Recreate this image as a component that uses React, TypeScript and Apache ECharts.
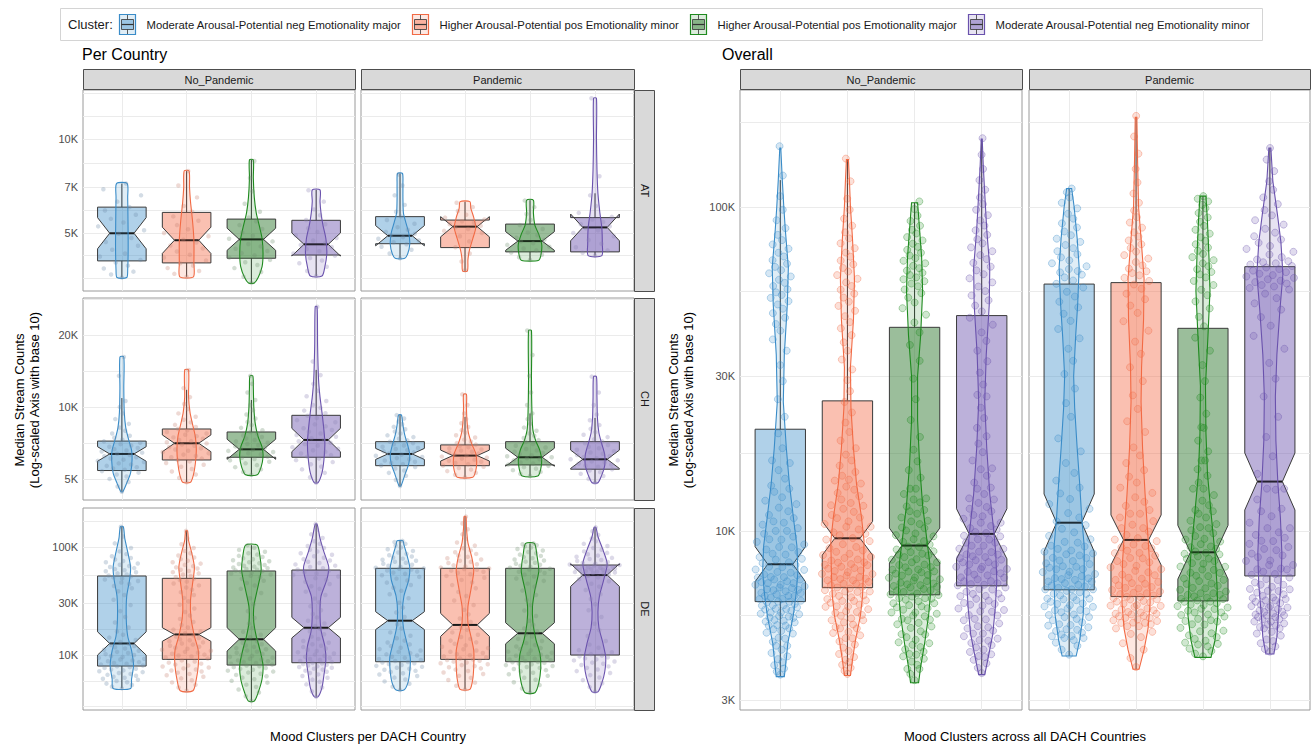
import React, { useEffect, useRef } from "react";
import * as echarts from "echarts";

// ---- categories -------------------------------------------------------------
const CLUSTERS = [
  "Moderate Arousal-Potential neg Emotionality major",
  "Higher Arousal-Potential pos Emotionality minor",
  "Higher Arousal-Potential pos Emotionality major",
  "Moderate Arousal-Potential neg Emotionality minor",
];
const CONDITIONS = ["No_Pandemic", "Pandemic"];
const COUNTRIES = ["AT", "CH", "DE"];

// ---- y scales (thousands of streams, log10) -------------------------------
const TICKS_AT = [5, 7, 10];
const MINOR_AT = [3.57, 4.23, 5.92, 8.37, 11.83, 14.0];
const TICKS_CH = [5, 10, 20];
const MINOR_CH = [7.07, 14.14, 28.28];
const TICKS_DE = [10, 30, 100];
const MINOR_DE = [3.33, 5.77, 17.32, 54.77, 173.2];
const TICKS_ALL = [3, 10, 30, 100];
const MINOR_ALL = [5.48, 17.32, 54.77, 182.6];
const RANGE_AT = [3.26, 14.35];
const RANGE_CH = [4.08, 28.6];
const RANGE_DE = [3.1, 229.6];
const RANGE_ALL = [2.8, 229.6];

// ---- boxplot stats per cluster: [whiskerLow, q1, notchLow, median, notchHigh, q3, whiskerHigh] (K)
const BOX_AT_NO = [
  [3.6, 4.07, 4.45, 4.99, 5.6, 6.05, 7.2],
  [3.62, 4.01, 4.3, 4.74, 5.22, 5.82, 7.9],
  [3.46, 4.15, 4.4, 4.77, 5.18, 5.54, 8.57],
  [3.64, 4.25, 4.22, 4.6, 5.0, 5.49, 6.87],
];
const BOX_AT_PAN = [
  [4.15, 4.62, 4.55, 4.9, 5.28, 5.64, 7.76],
  [3.78, 4.49, 4.86, 5.24, 5.64, 5.5, 6.3],
  [4.09, 4.35, 4.4, 4.71, 5.05, 5.34, 6.37],
  [4.23, 4.35, 4.72, 5.21, 5.75, 5.6, 6.7],
];
const BOX_CH_NO = [
  [4.42, 5.42, 5.93, 6.36, 6.82, 7.2, 10.9],
  [4.84, 6.0, 6.5, 7.05, 7.64, 8.09, 11.8],
  [5.2, 6.16, 6.04, 6.65, 7.33, 7.86, 10.7],
  [4.82, 6.16, 6.5, 7.28, 8.14, 9.23, 14.3],
];
const BOX_CH_PAN = [
  [4.67, 5.68, 6.03, 6.36, 6.71, 7.16, 9.26],
  [5.08, 5.68, 5.94, 6.26, 6.6, 6.94, 9.1],
  [5.14, 5.72, 5.65, 6.16, 6.72, 7.16, 9.4],
  [4.82, 5.49, 5.53, 6.04, 6.6, 7.16, 9.0],
];
const BOX_DE_NO = [
  [4.91, 7.91, 10.0, 12.8, 16.4, 53.9, 154],
  [4.67, 9.12, 13.4, 15.5, 17.9, 51.3, 141],
  [3.75, 8.08, 10.9, 14.0, 17.9, 60.0, 104],
  [4.11, 8.49, 14.4, 17.9, 22.3, 61.2, 163],
];
const BOX_DE_PAN = [
  [4.74, 8.67, 17.2, 20.8, 25.2, 63.5, 114],
  [4.81, 9.12, 14.9, 19.0, 24.3, 63.5, 191],
  [4.48, 8.67, 12.7, 15.9, 19.9, 63.5, 108],
  [4.57, 10.0, 43.2, 55.0, 70.0, 68.1, 152],
];
const BOX_ALL_NO = [
  [3.55, 6.05, 6.97, 7.89, 8.94, 20.6, 121],
  [3.58, 6.68, 8.42, 9.49, 10.7, 25.2, 140],
  [3.4, 6.35, 7.96, 9.01, 10.2, 42.5, 103],
  [3.6, 6.77, 8.2, 9.79, 11.7, 46.2, 162],
];
const BOX_ALL_PAN = [
  [4.11, 6.58, 8.64, 10.6, 13.0, 57.8, 114],
  [3.74, 6.27, 7.85, 9.38, 11.2, 58.4, 189],
  [4.07, 6.08, 7.1, 8.59, 10.4, 42.2, 108],
  [4.17, 7.26, 11.6, 14.2, 17.4, 65.4, 152],
];

// ---- violin outlines per cluster: [value (K), density] ---------------------
const VIOLIN_AT_NO = [
  [[3.6, 5], [3.8, 6], [4.5, 6.5], [5.5, 6.3], [6.5, 6], [7.2, 5.5]],
  [[3.62, 7], [4.0, 7.5], [4.75, 7.5], [5.5, 6], [6.3, 4], [7.0, 3], [7.9, 2.5]],
  [[3.46, 3], [3.6, 7], [3.9, 11], [4.3, 12], [4.8, 11], [5.3, 8], [5.8, 5], [6.5, 3], [7.5, 2], [8.57, 2]],
  [[3.64, 6], [3.9, 9], [4.3, 11], [4.8, 10], [5.3, 7], [5.8, 5], [6.3, 4], [6.87, 4]],
];
const VIOLIN_AT_PAN = [
  [[4.15, 5], [4.3, 8], [4.6, 10], [5.0, 9], [5.4, 6], [5.8, 3.5], [6.5, 3], [7.2, 3], [7.76, 2.5]],
  [[3.78, 2.5], [4.1, 3], [4.4, 4.5], [4.8, 8], [5.2, 11], [5.6, 9], [6.0, 6], [6.3, 5]],
  [[4.09, 9], [4.3, 11.5], [4.6, 12], [4.95, 9], [5.3, 5], [5.8, 3.5], [6.37, 3.5]],
  [[4.23, 7], [4.6, 7.5], [5.2, 7], [5.8, 5], [6.7, 3], [8, 2], [10, 1.5], [13.5, 1.5]],
];
const VIOLIN_CH_NO = [
  [[4.42, 1], [4.8, 5], [5.3, 9], [6.0, 10.5], [6.6, 10], [7.3, 7], [8.2, 4], [9.5, 2.5], [12, 2], [16.2, 2]],
  [[4.84, 4], [5.2, 7], [5.8, 9], [6.6, 10], [7.5, 9], [8.5, 6], [9.5, 3.5], [11, 2], [14.3, 2]],
  [[5.2, 6], [5.6, 10], [6.2, 12], [6.8, 11], [7.5, 7], [8.5, 4], [10, 2.5], [12, 2], [13.5, 1.5]],
  [[4.82, 2], [5.3, 6], [6.0, 8], [7.0, 9], [8.0, 8], [9.5, 6], [11, 4], [13, 2.5], [18, 1.5], [26.3, 1]],
];
const VIOLIN_CH_PAN = [
  [[4.67, 1], [5.2, 5], [5.8, 9], [6.3, 10], [6.9, 8], [7.6, 5], [8.4, 3], [9.26, 1.5]],
  [[5.08, 8], [5.4, 11], [5.9, 12], [6.4, 11], [7.0, 7], [7.8, 3.5], [8.8, 2], [10, 1.5], [11.3, 1.5]],
  [[5.14, 8], [5.5, 11], [6.0, 12], [6.6, 10], [7.2, 6], [8, 3], [9.5, 2], [13, 1.5], [20.9, 1.5]],
  [[4.82, 3], [5.2, 7], [5.7, 10], [6.3, 10], [7.0, 7], [7.8, 4], [9, 2.5], [11, 2], [13.4, 1.5]],
];
const VIOLIN_DE_NO = [
  [[4.91, 9], [6, 10], [8, 12], [11, 10], [15, 6], [22, 4.5], [35, 5], [50, 8], [65, 9], [90, 6], [120, 3], [154, 1.5]],
  [[4.67, 6.5], [6, 10], [8, 12], [11, 12], [15, 8], [22, 4.5], [32, 4], [45, 6], [65, 8], [90, 5], [115, 2], [141, 1]],
  [[3.75, 3], [4.5, 7], [6, 11], [8, 12], [11, 9], [15, 5], [20, 2.5], [28, 2.5], [40, 6], [60, 10], [80, 9], [104, 6]],
  [[4.11, 2], [5, 6], [6.5, 8], [9, 10], [12, 9], [17, 5], [25, 4], [35, 5], [50, 11], [65, 13], [90, 8], [120, 4], [163, 1]],
];
const VIOLIN_DE_PAN = [
  [[4.74, 4], [5.5, 8], [7, 10], [9.5, 10.5], [13, 7], [18, 3.5], [25, 2.5], [35, 4], [50, 9], [65, 10], [85, 7], [105, 4], [114, 3]],
  [[4.81, 5], [6, 8], [8, 9], [11, 9], [15, 6], [20, 3], [28, 3], [40, 6], [60, 9], [80, 7], [110, 3], [150, 1.5], [191, 1]],
  [[4.48, 5], [5.5, 9], [7.5, 11], [10, 10.5], [14, 6], [20, 3], [28, 2.5], [40, 5], [60, 9], [85, 7], [108, 4.5]],
  [[4.57, 3], [5.5, 7], [7, 10], [9.5, 11], [13, 8], [18, 4], [25, 3], [35, 4.5], [50, 9], [70, 12.5], [95, 8], [125, 3], [152, 1]],
];
const VIOLIN_ALL_NO = [
  [[3.55, 4], [3.9, 5.5], [4.5, 7.5], [5.5, 13], [6.5, 16], [7.5, 17.5], [9, 16.5], [11, 13], [14, 9], [18, 6], [25, 3], [35, 4], [50, 7], [65, 8], [85, 5], [100, 3.5], [121, 2], [152, 0.5]],
  [[3.58, 3], [4, 5], [4.6, 8], [5.5, 13], [6.3, 15], [7.5, 16], [9.3, 16.5], [11, 14], [14, 9], [18, 6], [24, 3.5], [32, 3], [45, 6], [60, 7], [80, 5], [100, 3], [120, 2], [140, 1]],
  [[3.4, 4], [3.8, 6], [4.5, 10], [5.5, 14], [6.5, 16], [8, 15], [9.5, 12], [12, 8], [16, 5], [22, 3], [30, 3], [40, 6], [55, 8], [70, 7], [85, 5], [103, 3]],
  [[3.6, 3], [4, 6], [4.8, 11], [5.8, 13.5], [7, 15], [8.5, 14], [10, 12], [13, 8], [18, 5], [25, 3], [35, 4.5], [50, 7.5], [65, 8], [85, 5], [110, 3], [135, 1.5], [162, 0.5]],
];
const VIOLIN_ALL_PAN = [
  [[4.11, 7], [4.6, 10.5], [5.5, 14], [7, 15], [9, 15], [11, 12.5], [14, 10.5], [18, 8], [24, 5.5], [30, 4.5], [40, 6.5], [50, 8.5], [65, 10], [80, 8], [100, 5], [114, 2.5]],
  [[3.74, 3], [4.3, 8], [5, 12], [6, 14], [8, 13.5], [10, 11.5], [13, 9], [18, 6.5], [25, 5], [32, 5.5], [45, 7.5], [60, 8], [80, 5], [100, 2.5], [140, 1.5], [189, 0.8]],
  [[4.07, 8], [4.6, 12], [5.5, 15], [6.8, 14], [8.5, 12], [11, 8.5], [15, 4.5], [20, 3], [28, 2.5], [40, 5], [55, 7], [70, 6], [90, 4.5], [108, 3]],
  [[4.17, 4], [4.7, 7], [5.5, 8.5], [6.8, 11], [8.5, 12], [11, 10.5], [14, 8], [19, 6], [26, 5.5], [35, 7], [48, 10], [62, 13], [78, 11], [95, 7.5], [120, 3], [152, 1]],
];

// ---- observations per cluster (K); the overall panels pool the three countries
const POINTS_AT_NO = [
  [3.6, 3.68, 3.76, 3.85, 3.93, 4.02, 4.1, 4.2, 4.3, 4.42, 4.55, 4.68, 4.82, 4.97, 5.1, 5.25, 5.4, 5.55, 5.72, 5.9, 6.05, 6.3, 6.6, 6.9, 7.2],
  [3.62, 3.7, 3.78, 3.86, 3.93, 4.0, 4.08, 4.17, 4.26, 4.36, 4.46, 4.56, 4.66, 4.76, 4.88, 5.0, 5.14, 5.3, 5.47, 5.65, 5.85, 6.1, 6.5, 7.1, 7.9],
  [3.46, 3.62, 3.75, 3.86, 3.95, 4.03, 4.1, 4.17, 4.24, 4.31, 4.38, 4.45, 4.53, 4.61, 4.7, 4.79, 4.9, 5.02, 5.15, 5.3, 5.45, 5.6, 5.85, 6.2, 6.8, 7.5, 8.5],
  [3.64, 3.78, 3.9, 4.0, 4.08, 4.16, 4.23, 4.3, 4.37, 4.44, 4.51, 4.58, 4.65, 4.73, 4.82, 4.92, 5.04, 5.18, 5.33, 5.5, 5.7, 5.95, 6.3, 6.85],
];
const POINTS_AT_PAN = [
  [4.15, 4.3, 4.42, 4.52, 4.6, 4.67, 4.73, 4.79, 4.85, 4.91, 4.97, 5.04, 5.12, 5.22, 5.35, 5.5, 5.65, 5.85, 6.15, 6.6, 7.1, 7.7],
  [3.8, 4.05, 4.3, 4.5, 4.7, 4.88, 5.0, 5.08, 5.15, 5.21, 5.27, 5.33, 5.39, 5.45, 5.52, 5.6, 5.72, 5.88, 6.05, 6.25],
  [4.1, 4.18, 4.26, 4.33, 4.4, 4.46, 4.52, 4.58, 4.64, 4.7, 4.76, 4.83, 4.92, 5.02, 5.15, 5.3, 5.5, 5.75, 6.05, 6.35],
  [4.24, 4.32, 4.4, 4.5, 4.62, 4.75, 4.88, 5.0, 5.1, 5.18, 5.25, 5.33, 5.42, 5.52, 5.63, 5.8, 6.1, 6.6, 7.6, 13.5],
];
const POINTS_CH_NO = [
  [4.42, 4.65, 4.85, 5.0, 5.12, 5.22, 5.31, 5.39, 5.46, 5.53, 5.6, 5.67, 5.74, 5.81, 5.88, 5.95, 6.02, 6.09, 6.16, 6.23, 6.3, 6.37, 6.44, 6.51, 6.58, 6.66, 6.74, 6.82, 6.9, 6.99, 7.08, 7.18, 7.3, 7.43, 7.58, 7.75, 7.95, 8.2, 8.5, 8.9, 9.4, 10.0, 10.6, 13.5, 16.2],
  [4.84, 5.05, 5.22, 5.37, 5.5, 5.62, 5.73, 5.83, 5.92, 6.0, 6.08, 6.16, 6.24, 6.32, 6.4, 6.48, 6.56, 6.64, 6.72, 6.8, 6.88, 6.96, 7.04, 7.12, 7.2, 7.28, 7.37, 7.46, 7.55, 7.65, 7.75, 7.86, 7.98, 8.1, 8.25, 8.42, 8.62, 8.85, 9.1, 9.4, 9.8, 10.3, 11.0, 12.0, 14.3],
  [5.2, 5.35, 5.48, 5.6, 5.71, 5.81, 5.9, 5.98, 6.06, 6.13, 6.2, 6.27, 6.34, 6.41, 6.48, 6.55, 6.62, 6.69, 6.76, 6.84, 6.92, 7.0, 7.09, 7.18, 7.28, 7.38, 7.49, 7.6, 7.72, 7.85, 8.0, 8.18, 8.4, 8.65, 8.95, 9.3, 9.7, 10.2, 10.7, 11.5, 12.5, 13.5],
  [4.82, 5.08, 5.3, 5.48, 5.63, 5.76, 5.88, 5.99, 6.09, 6.19, 6.29, 6.39, 6.49, 6.59, 6.69, 6.79, 6.89, 6.99, 7.09, 7.19, 7.29, 7.4, 7.51, 7.63, 7.75, 7.88, 8.01, 8.15, 8.3, 8.46, 8.63, 8.81, 9.0, 9.2, 9.42, 9.66, 9.92, 10.2, 10.6, 11.1, 11.7, 12.5, 13.6, 15.5, 26.3],
];
const POINTS_CH_PAN = [
  [4.67, 4.95, 5.15, 5.3, 5.42, 5.52, 5.61, 5.69, 5.76, 5.83, 5.9, 5.97, 6.04, 6.11, 6.18, 6.25, 6.32, 6.39, 6.46, 6.53, 6.6, 6.67, 6.74, 6.82, 6.9, 6.98, 7.06, 7.15, 7.25, 7.36, 7.48, 7.61, 7.75, 7.9, 8.07, 8.26, 8.47, 8.7, 8.95, 9.25],
  [5.08, 5.2, 5.3, 5.39, 5.47, 5.55, 5.62, 5.69, 5.76, 5.83, 5.9, 5.96, 6.02, 6.08, 6.14, 6.2, 6.26, 6.32, 6.38, 6.44, 6.5, 6.57, 6.64, 6.71, 6.79, 6.87, 6.96, 7.06, 7.17, 7.3, 7.45, 7.62, 7.8, 8.0, 8.25, 8.55, 8.9, 9.4, 10.2, 11.3],
  [5.14, 5.25, 5.35, 5.44, 5.52, 5.6, 5.67, 5.74, 5.8, 5.86, 5.92, 5.98, 6.04, 6.1, 6.16, 6.22, 6.28, 6.35, 6.42, 6.5, 6.58, 6.67, 6.77, 6.88, 7.0, 7.13, 7.27, 7.42, 7.58, 7.75, 7.95, 8.2, 8.5, 8.9, 9.4, 10.2, 11.5, 13.5, 16.5, 20.9],
  [4.82, 5.0, 5.14, 5.25, 5.34, 5.42, 5.49, 5.56, 5.62, 5.68, 5.74, 5.8, 5.86, 5.92, 5.98, 6.04, 6.1, 6.16, 6.23, 6.3, 6.37, 6.45, 6.53, 6.62, 6.72, 6.82, 6.93, 7.05, 7.18, 7.32, 7.48, 7.65, 7.85, 8.1, 8.4, 8.8, 9.3, 10.2, 11.5, 13.4],
];
const POINTS_DE_NO = [
  [4.91, 5.1, 5.28, 5.44, 5.6, 5.75, 5.9, 6.04, 6.17, 6.3, 6.43, 6.56, 6.69, 6.82, 6.95, 7.08, 7.21, 7.34, 7.47, 7.6, 7.73, 7.86,
    8.0, 8.15, 8.3, 8.45, 8.6, 8.76, 8.92, 9.08, 9.25, 9.42, 9.6, 9.8, 10.0, 10.2, 10.45, 10.7, 10.95, 11.2, 11.5, 11.8, 12.1, 12.4, 12.7,
    13.2, 13.8, 14.5, 15.4, 16.5, 18, 20, 22.5, 25.5, 29, 32.5, 36, 39, 41.5, 43.5, 45.5, 47, 48.5, 50, 51.2, 52.4, 53.5,
    54.5, 55.7, 57, 58.3, 59.6, 61, 62.4, 63.8, 65.3, 66.8, 68.5, 70.3, 72.2, 74.3, 76.6, 79, 82, 86, 91, 98, 108, 125, 154],
  [4.67, 5.0, 5.3, 5.58, 5.84, 6.08, 6.3, 6.5, 6.69, 6.87, 7.04, 7.2, 7.36, 7.52, 7.68, 7.84, 8.0, 8.16, 8.32, 8.5, 8.7, 8.92,
    9.3, 9.5, 9.7, 9.9, 10.1, 10.3, 10.5, 10.7, 10.95, 11.2, 11.45, 11.7, 11.95, 12.2, 12.5, 12.8, 13.1, 13.4, 13.7, 14.0, 14.4, 14.8, 15.2,
    15.9, 16.5, 17.2, 18, 19, 20.2, 21.6, 23.2, 25, 27, 29.2, 31.5, 33.8, 36, 38.2, 40.2, 42.2, 44.1, 46, 47.8, 49.5, 51,
    52.5, 54, 55.5, 57, 58.5, 60, 61.6, 63.2, 64.8, 66.5, 68.3, 70.2, 72.3, 74.6, 77.2, 80, 83.5, 87.5, 92, 98, 106, 120, 141],
  [3.75, 4.15, 4.5, 4.8, 5.07, 5.32, 5.55, 5.77, 5.98, 6.18, 6.37, 6.55, 6.72, 6.88, 7.03, 7.17, 7.31, 7.45, 7.59, 7.73, 7.87, 8.0,
    8.15, 8.3, 8.45, 8.6, 8.76, 8.92, 9.08, 9.25, 9.43, 9.62, 9.82, 10.03, 10.25, 10.5, 10.75, 11.0, 11.3, 11.6, 11.9, 12.25, 12.6, 13.0, 13.5,
    14.6, 15.4, 16.4, 17.8, 19.5, 22, 25.5, 29.5, 33.5, 37.5, 41, 44, 46.5, 48.7, 50.7, 52.5, 54.2, 55.6, 56.9, 58, 59, 59.8,
    60.6, 61.6, 62.6, 63.6, 64.7, 65.8, 67, 68.2, 69.5, 70.8, 72.2, 73.7, 75.3, 77, 78.8, 80.7, 82.8, 85, 87.5, 90.5, 94, 98.5, 104],
  [4.11, 4.6, 5.0, 5.35, 5.65, 5.92, 6.17, 6.4, 6.62, 6.82, 7.0, 7.17, 7.33, 7.48, 7.62, 7.75, 7.88, 8.0, 8.12, 8.24, 8.35, 8.45,
    8.6, 8.8, 9.0, 9.2, 9.4, 9.62, 9.85, 10.1, 10.35, 10.6, 10.9, 11.2, 11.5, 11.85, 12.2, 12.6, 13.0, 13.5, 14.1, 14.8, 15.6, 16.5, 17.5,
    18.6, 19.6, 20.8, 22.3, 24, 26, 28.3, 30.8, 33.4, 36, 38.6, 41, 43.3, 45.5, 47.6, 49.6, 51.5, 53.3, 55, 56.8, 58.5, 60.2,
    62, 63.7, 65.4, 67.2, 69, 71, 73, 75, 77.2, 79.5, 82, 84.7, 87.6, 90.8, 94.3, 98, 102, 107, 113, 121, 131, 145, 163],
];
const POINTS_DE_PAN = [
  [4.74, 5.1, 5.42, 5.7, 5.95, 6.18, 6.4, 6.6, 6.79, 6.97, 7.14, 7.3, 7.46, 7.62, 7.78, 7.94, 8.1, 8.25, 8.4, 8.52, 8.63,
    8.8, 9.0, 9.2, 9.42, 9.65, 9.9, 10.15, 10.42, 10.7, 11.0, 11.35, 11.7, 12.1, 12.55, 13.05, 13.6, 14.3, 15.1, 16.2, 17.6, 19.3,
    22.5, 24.8, 27.5, 30.5, 33.5, 36.5, 39.3, 42, 44.5, 46.8, 49, 51, 52.9, 54.7, 56.4, 57.9, 59.3, 60.6, 61.8, 62.8, 63.4,
    64.3, 65.6, 67, 68.4, 69.9, 71.4, 73, 74.6, 76.3, 78, 79.8, 81.8, 84, 86.4, 89, 92, 95.3, 99, 103, 107, 111, 114],
  [4.81, 5.2, 5.55, 5.87, 6.15, 6.42, 6.67, 6.9, 7.12, 7.33, 7.53, 7.72, 7.9, 8.07, 8.23, 8.39, 8.54, 8.69, 8.84, 8.98, 9.08,
    9.3, 9.5, 9.72, 9.95, 10.2, 10.45, 10.72, 11.0, 11.3, 11.6, 11.95, 12.3, 12.7, 13.1, 13.6, 14.1, 14.7, 15.4, 16.2, 17.1, 18.1,
    20.2, 21.8, 23.8, 26.2, 29, 32, 35.2, 38.4, 41.5, 44.4, 47.1, 49.6, 51.9, 54, 55.9, 57.6, 59.1, 60.4, 61.5, 62.5, 63.3,
    64.5, 66, 67.6, 69.3, 71, 72.8, 74.7, 76.7, 78.8, 81, 83.5, 86.3, 89.5, 93, 97.5, 103, 110, 119, 131, 146, 165, 191],
  [4.48, 4.9, 5.27, 5.6, 5.9, 6.17, 6.42, 6.65, 6.86, 7.06, 7.25, 7.43, 7.6, 7.76, 7.92, 8.07, 8.21, 8.34, 8.46, 8.56, 8.64,
    8.8, 8.95, 9.1, 9.27, 9.45, 9.64, 9.84, 10.05, 10.27, 10.5, 10.75, 11.0, 11.3, 11.6, 12.0, 12.4, 12.9, 13.5, 14.1, 14.8, 15.5,
    16.5, 17.6, 19, 20.8, 23, 25.8, 29, 32.5, 36, 39.5, 42.8, 45.8, 48.6, 51.1, 53.4, 55.5, 57.4, 59.1, 60.6, 61.9, 63,
    64.2, 65.6, 67, 68.5, 70, 71.6, 73.2, 74.9, 76.7, 78.6, 80.6, 82.7, 85, 87.4, 90, 92.8, 95.8, 99, 101.5, 104, 106, 108],
  [4.57, 5.05, 5.48, 5.86, 6.2, 6.52, 6.82, 7.1, 7.36, 7.61, 7.85, 8.08, 8.3, 8.51, 8.72, 8.92, 9.12, 9.32, 9.52, 9.72, 9.9,
    10.2, 10.6, 11.1, 11.7, 12.5, 13.5, 15, 17, 19.5, 22.5, 26, 29.5, 33, 36.5, 40, 43, 45.7, 48.2, 50.4, 52.3, 54,
    55.6, 56.2, 56.8, 57.4, 58, 58.6, 59.2, 59.8, 60.4, 61, 61.6, 62.2, 62.9, 63.6, 64.3, 65, 65.7, 66.4, 67, 67.5, 68,
    68.8, 70, 71.3, 72.7, 74.2, 75.8, 77.5, 79.3, 81.2, 83.3, 85.6, 88.2, 91, 94.2, 97.8, 102, 107, 113, 120, 129, 140, 152],
];

// ---- styling -----------------------------------------------------------------
const FONT = '"Liberation Sans", Arial, Helvetica, sans-serif';
const LINE = ["#3a8cc8", "#f26a44", "#1f8a1f", "#6a52ad"];
const BOX_FILL = [
  "rgba(58,140,200,0.40)",
  "rgba(242,106,68,0.42)",
  "rgba(46,120,46,0.48)",
  "rgba(106,82,173,0.45)",
];
const VIOLIN_FILL = [
  "rgba(58,140,200,0.16)",
  "rgba(242,106,68,0.16)",
  "rgba(31,138,31,0.16)",
  "rgba(106,82,173,0.16)",
];
const DOT_SMALL = [
  "rgba(110,140,170,0.38)",
  "rgba(200,130,115,0.38)",
  "rgba(110,145,110,0.38)",
  "rgba(140,130,180,0.38)",
];
const DOT_FILL = [
  "rgba(58,140,200,0.26)",
  "rgba(242,106,68,0.26)",
  "rgba(31,138,31,0.26)",
  "rgba(106,82,173,0.26)",
];
const DOT_EDGE = [
  "rgba(58,140,200,0.55)",
  "rgba(242,106,68,0.55)",
  "rgba(31,138,31,0.55)",
  "rgba(106,82,173,0.55)",
];
const GRID_LINE = "#ebebeb";
const VIOLIN_SCALE = 0.015;
const BOX_WIDTH = 0.75;
const JITTER_WIDTH = 0.4;

// ---- panel layout ----------------------------------------------------------
const LEFT_X = [[83, 355], [361, 634]];
const LEFT_Y = [[90, 291], [298, 500], [508, 710]];
const RIGHT_X = [[740, 1022], [1029, 1310]];
const RIGHT_Y = [90, 710];
const STRIP_TOP = 69;

// pool the three countries for the overall panels
const pooled = (a: number[][], b: number[][], c: number[][]) =>
  a.map((vals, k) => vals.concat(b[k], c[k]).sort((x, y) => x - y));
const POINTS_ALL_NO = pooled(POINTS_AT_NO, POINTS_CH_NO, POINTS_DE_NO);
const POINTS_ALL_PAN = pooled(POINTS_AT_PAN, POINTS_CH_PAN, POINTS_DE_PAN);

const PANELS = [
  { box: BOX_AT_NO, violin: VIOLIN_AT_NO, points: POINTS_AT_NO, range: RANGE_AT, ticks: TICKS_AT, minor: MINOR_AT, x: LEFT_X[0], y: LEFT_Y[0], labels: true, small: true },
  { box: BOX_AT_PAN, violin: VIOLIN_AT_PAN, points: POINTS_AT_PAN, range: RANGE_AT, ticks: TICKS_AT, minor: MINOR_AT, x: LEFT_X[1], y: LEFT_Y[0], labels: false, small: true },
  { box: BOX_CH_NO, violin: VIOLIN_CH_NO, points: POINTS_CH_NO, range: RANGE_CH, ticks: TICKS_CH, minor: MINOR_CH, x: LEFT_X[0], y: LEFT_Y[1], labels: true, small: true },
  { box: BOX_CH_PAN, violin: VIOLIN_CH_PAN, points: POINTS_CH_PAN, range: RANGE_CH, ticks: TICKS_CH, minor: MINOR_CH, x: LEFT_X[1], y: LEFT_Y[1], labels: false, small: true },
  { box: BOX_DE_NO, violin: VIOLIN_DE_NO, points: POINTS_DE_NO, range: RANGE_DE, ticks: TICKS_DE, minor: MINOR_DE, x: LEFT_X[0], y: LEFT_Y[2], labels: true, small: true },
  { box: BOX_DE_PAN, violin: VIOLIN_DE_PAN, points: POINTS_DE_PAN, range: RANGE_DE, ticks: TICKS_DE, minor: MINOR_DE, x: LEFT_X[1], y: LEFT_Y[2], labels: false, small: true },
  { box: BOX_ALL_NO, violin: VIOLIN_ALL_NO, points: POINTS_ALL_NO, range: RANGE_ALL, ticks: TICKS_ALL, minor: MINOR_ALL, x: RIGHT_X[0], y: RIGHT_Y, labels: true, small: false },
  { box: BOX_ALL_PAN, violin: VIOLIN_ALL_PAN, points: POINTS_ALL_PAN, range: RANGE_ALL, ticks: TICKS_ALL, minor: MINOR_ALL, x: RIGHT_X[1], y: RIGHT_Y, labels: false, small: false },
];

// van der Corput sequence (base 2) for quasi-random horizontal spread
function vdc(n: number) {
  let v = 0;
  let d = 1;
  while (n > 0) {
    d *= 2;
    v += (n % 2) / d;
    n = Math.floor(n / 2);
  }
  return v;
}

// violin density at a value (log-space lookup along the outline)
function densityAt(outline: number[][], v: number) {
  const lv = Math.log10(v);
  if (lv <= Math.log10(outline[0][0])) return outline[0][1];
  for (let k = 1; k < outline.length; k++) {
    const a = Math.log10(outline[k - 1][0]);
    const b = Math.log10(outline[k][0]);
    if (lv <= b) {
      const t = (lv - a) / (b - a);
      return outline[k - 1][1] + t * (outline[k][1] - outline[k - 1][1]);
    }
  }
  return outline[outline.length - 1][1];
}

function spreadPoints(values: number[], outline: number[][], center: number) {
  const maxD = Math.max(...outline.map((p) => p[1]));
  return values.map((v, i) => {
    const w = (JITTER_WIDTH * densityAt(outline, v)) / maxD;
    return [center + w * (vdc(i + 1) * 2 - 1), v];
  });
}

function boxRenderer(boxes: number[][]) {
  return (params: any, api: any) => {
    const i = params.dataIndex;
    const [wl, q1, nl, md, nh, q3, wh] = boxes[i];
    const cx = i + 1;
    const hw = BOX_WIDTH / 2;
    const inset = hw * 0.5;
    const p = (x: number, v: number) => api.coord([x, v]);
    const top = p(cx, q3);
    const hi = p(cx, wh);
    const bot = p(cx, q1);
    const lo = p(cx, wl);
    const poly = [
      p(cx - hw, q3), p(cx - hw, nh), p(cx - hw + inset, md), p(cx - hw, nl), p(cx - hw, q1),
      p(cx + hw, q1), p(cx + hw, nl), p(cx + hw - inset, md), p(cx + hw, nh), p(cx + hw, q3),
    ];
    const m1 = p(cx - hw + inset, md);
    const m2 = p(cx + hw - inset, md);
    return {
      type: "group",
      children: [
        { type: "line", shape: { x1: top[0], y1: top[1], x2: hi[0], y2: hi[1] }, style: { stroke: "#333333", lineWidth: 1 } },
        { type: "line", shape: { x1: bot[0], y1: bot[1], x2: lo[0], y2: lo[1] }, style: { stroke: "#333333", lineWidth: 1 } },
        { type: "polygon", shape: { points: poly }, style: { fill: BOX_FILL[i], stroke: "#3a3a3a", lineWidth: 1 } },
        { type: "line", shape: { x1: m1[0], y1: m1[1], x2: m2[0], y2: m2[1] }, style: { stroke: "#1a1a1a", lineWidth: 2 } },
      ],
    };
  };
}

function violinRenderer(violins: number[][][], smooth: number) {
  return (params: any, api: any) => {
    const i = params.dataIndex;
    const cx = i + 1;
    const outline = violins[i];
    const left = outline.map(([v, d]) => api.coord([cx - d * VIOLIN_SCALE, v]));
    const right = outline
      .slice()
      .reverse()
      .map(([v, d]) => api.coord([cx + d * VIOLIN_SCALE, v]));
    return {
      type: "polygon",
      shape: { points: left.concat(right), smooth },
      style: { fill: VIOLIN_FILL[i], stroke: LINE[i], lineWidth: 1.1 },
    };
  };
}

function measure(text: string, font: string) {
  const ctx = document.createElement("canvas").getContext("2d");
  if (!ctx) return text.length * 5.3;
  ctx.font = font;
  return ctx.measureText(text).width;
}

function buildOption() {
  const grid: any[] = [];
  const xAxis: any[] = [];
  const yAxis: any[] = [];
  const series: any[] = [];

  PANELS.forEach((pn, g) => {
    grid.push({
      left: pn.x[0],
      top: pn.y[0],
      width: pn.x[1] - pn.x[0],
      height: pn.y[1] - pn.y[0],
      show: true,
      backgroundColor: "#ffffff",
      borderColor: "#9a9a9a",
      borderWidth: 1,
    });
    xAxis.push({
      type: "value",
      gridIndex: g,
      min: 0.4,
      max: 4.6,
      axisLine: { show: false },
      axisTick: { show: false, customValues: [1, 2, 3, 4] },
      axisLabel: { show: false },
      splitLine: { show: true, lineStyle: { color: GRID_LINE, width: 1 } },
    });
    yAxis.push({
      type: "log",
      logBase: 10,
      gridIndex: g,
      min: pn.range[0],
      max: pn.range[1],
      axisLine: { show: false },
      axisTick: { show: false, customValues: pn.ticks.concat(pn.minor) },
      axisLabel: {
        show: pn.labels,
        customValues: pn.ticks,
        formatter: (v: number) => `${Math.round(v)}K`,
        color: "#4d4d4d",
        fontSize: 11,
        fontFamily: FONT,
        margin: 5,
      },
      splitLine: { show: true, lineStyle: { color: GRID_LINE, width: 1 } },
    });

    const anchor = pn.box.map((b, i) => [i + 1, b[3]]);
    series.push({
      type: "custom",
      xAxisIndex: g,
      yAxisIndex: g,
      renderItem: boxRenderer(pn.box),
      data: anchor,
      encode: { x: 0, y: 1 },
      z: 2,
      silent: true,
    });
    series.push({
      type: "custom",
      xAxisIndex: g,
      yAxisIndex: g,
      renderItem: violinRenderer(pn.violin, pn.small ? 0.25 : 0),
      data: anchor,
      encode: { x: 0, y: 1 },
      z: 3,
      silent: true,
    });
    pn.points.forEach((vals, c) => {
      series.push({
        type: "scatter",
        xAxisIndex: g,
        yAxisIndex: g,
        symbol: "circle",
        symbolSize: pn.small ? 4.5 : 7,
        data: spreadPoints(vals, pn.violin[c], c + 1),
        itemStyle: pn.small
          ? { color: DOT_SMALL[c] }
          : { color: DOT_FILL[c], borderColor: DOT_EDGE[c], borderWidth: 0.8 },
        z: 4,
        silent: true,
      });
    });
  });

  const graphic: any[] = [];
  const stripStyle = { fill: "#d9d9d9", stroke: "#4d4d4d", lineWidth: 1 };
  const stripText = (text: string, x: number, y: number, rotation = 0) => ({
    type: "text",
    x,
    y,
    rotation,
    style: { text, fill: "#1a1a1a", font: `11px ${FONT}`, textAlign: "center", textVerticalAlign: "middle" },
    z: 10,
  });

  // column strips
  [LEFT_X, RIGHT_X].forEach((cols) => {
    cols.forEach((cx, k) => {
      graphic.push({
        type: "rect",
        shape: { x: cx[0] + 0.5, y: STRIP_TOP + 0.5, width: cx[1] - cx[0], height: 20 },
        style: stripStyle,
        z: 9,
      });
      graphic.push(stripText(CONDITIONS[k], (cx[0] + cx[1]) / 2, STRIP_TOP + 10.5));
    });
  });
  // row strips
  LEFT_Y.forEach((ry, k) => {
    graphic.push({
      type: "rect",
      shape: { x: LEFT_X[1][1] + 0.5, y: ry[0] + 0.5, width: 20, height: ry[1] - ry[0] },
      style: stripStyle,
      z: 9,
    });
    graphic.push(stripText(COUNTRIES[k], LEFT_X[1][1] + 10.5, (ry[0] + ry[1]) / 2, -Math.PI / 2));
  });

  // panel titles
  graphic.push({ type: "text", x: 82, y: 54, style: { text: "Per Country", fill: "#000", font: `16px ${FONT}`, textVerticalAlign: "middle" } });
  graphic.push({ type: "text", x: 722, y: 54, style: { text: "Overall", fill: "#000", font: `16px ${FONT}`, textVerticalAlign: "middle" } });

  // axis titles
  const yTitle = "Median Stream Counts\n(Log-scaled Axis with base 10)";
  [27, 681].forEach((x) => {
    graphic.push({
      type: "text",
      x,
      y: 400,
      rotation: Math.PI / 2,
      style: { text: yTitle, fill: "#000", font: `13px ${FONT}`, textAlign: "center", textVerticalAlign: "middle", lineHeight: 15 },
    });
  });
  graphic.push({ type: "text", x: 368, y: 736, style: { text: "Mood Clusters per DACH Country", fill: "#000", font: `13px ${FONT}`, textAlign: "center", textVerticalAlign: "middle" } });
  graphic.push({ type: "text", x: 1025, y: 736, style: { text: "Mood Clusters across all DACH Countries", fill: "#000", font: `13px ${FONT}`, textAlign: "center", textVerticalAlign: "middle" } });

  // legend
  const legFont = `11.3px ${FONT}`;
  const titleFont = `13px ${FONT}`;
  graphic.push({ type: "rect", shape: { x: 60.5, y: 8.5, width: 1202, height: 32 }, style: { fill: "#fff", stroke: "#d4d4d4", lineWidth: 1 } });
  graphic.push({ type: "text", x: 68, y: 24.5, style: { text: "Cluster:", fill: "#1a1a1a", font: titleFont, textVerticalAlign: "middle" } });
  let lx = 68 + measure("Cluster:", titleFont) + 6;
  CLUSTERS.forEach((name, i) => {
    const gx = Math.round(lx) + 0.5;
    graphic.push({ type: "rect", shape: { x: gx, y: 14.5, width: 16, height: 20 }, style: { fill: VIOLIN_FILL[i], stroke: LINE[i], lineWidth: 1.2 } });
    graphic.push({ type: "rect", shape: { x: gx + 2, y: 19.5, width: 12, height: 10 }, style: { fill: BOX_FILL[i], stroke: "#333", lineWidth: 0.8 } });
    graphic.push({ type: "line", shape: { x1: gx + 2, y1: 24.5, x2: gx + 14, y2: 24.5 }, style: { stroke: "#333", lineWidth: 1.2 } });
    graphic.push({ type: "line", shape: { x1: gx + 8, y1: 15, x2: gx + 8, y2: 19.5 }, style: { stroke: "#333", lineWidth: 0.8 } });
    graphic.push({ type: "line", shape: { x1: gx + 8, y1: 29.5, x2: gx + 8, y2: 34 }, style: { stroke: "#333", lineWidth: 0.8 } });
    const tx = gx + 16 + 11;
    graphic.push({ type: "text", x: tx, y: 24.5, style: { text: name, fill: "#1a1a1a", font: legFont, textVerticalAlign: "middle" } });
    lx = tx + measure(name, legFont) + 11;
  });

  return {
    animation: false,
    backgroundColor: "#ffffff",
    textStyle: { fontFamily: FONT },
    grid,
    xAxis,
    yAxis,
    series,
    graphic,
  };
}

export default function App() {
  const ref = useRef<HTMLDivElement>(null);
  useEffect(() => {
    document.body.style.margin = "0";
    document.body.style.overflow = "hidden";
    if (!ref.current) return;
    const chart = echarts.init(ref.current, undefined, { renderer: "svg" });
    chart.setOption(buildOption());
    return () => chart.dispose();
  }, []);
  return <div ref={ref} style={{ width: 1312, height: 744 }} />;
}
